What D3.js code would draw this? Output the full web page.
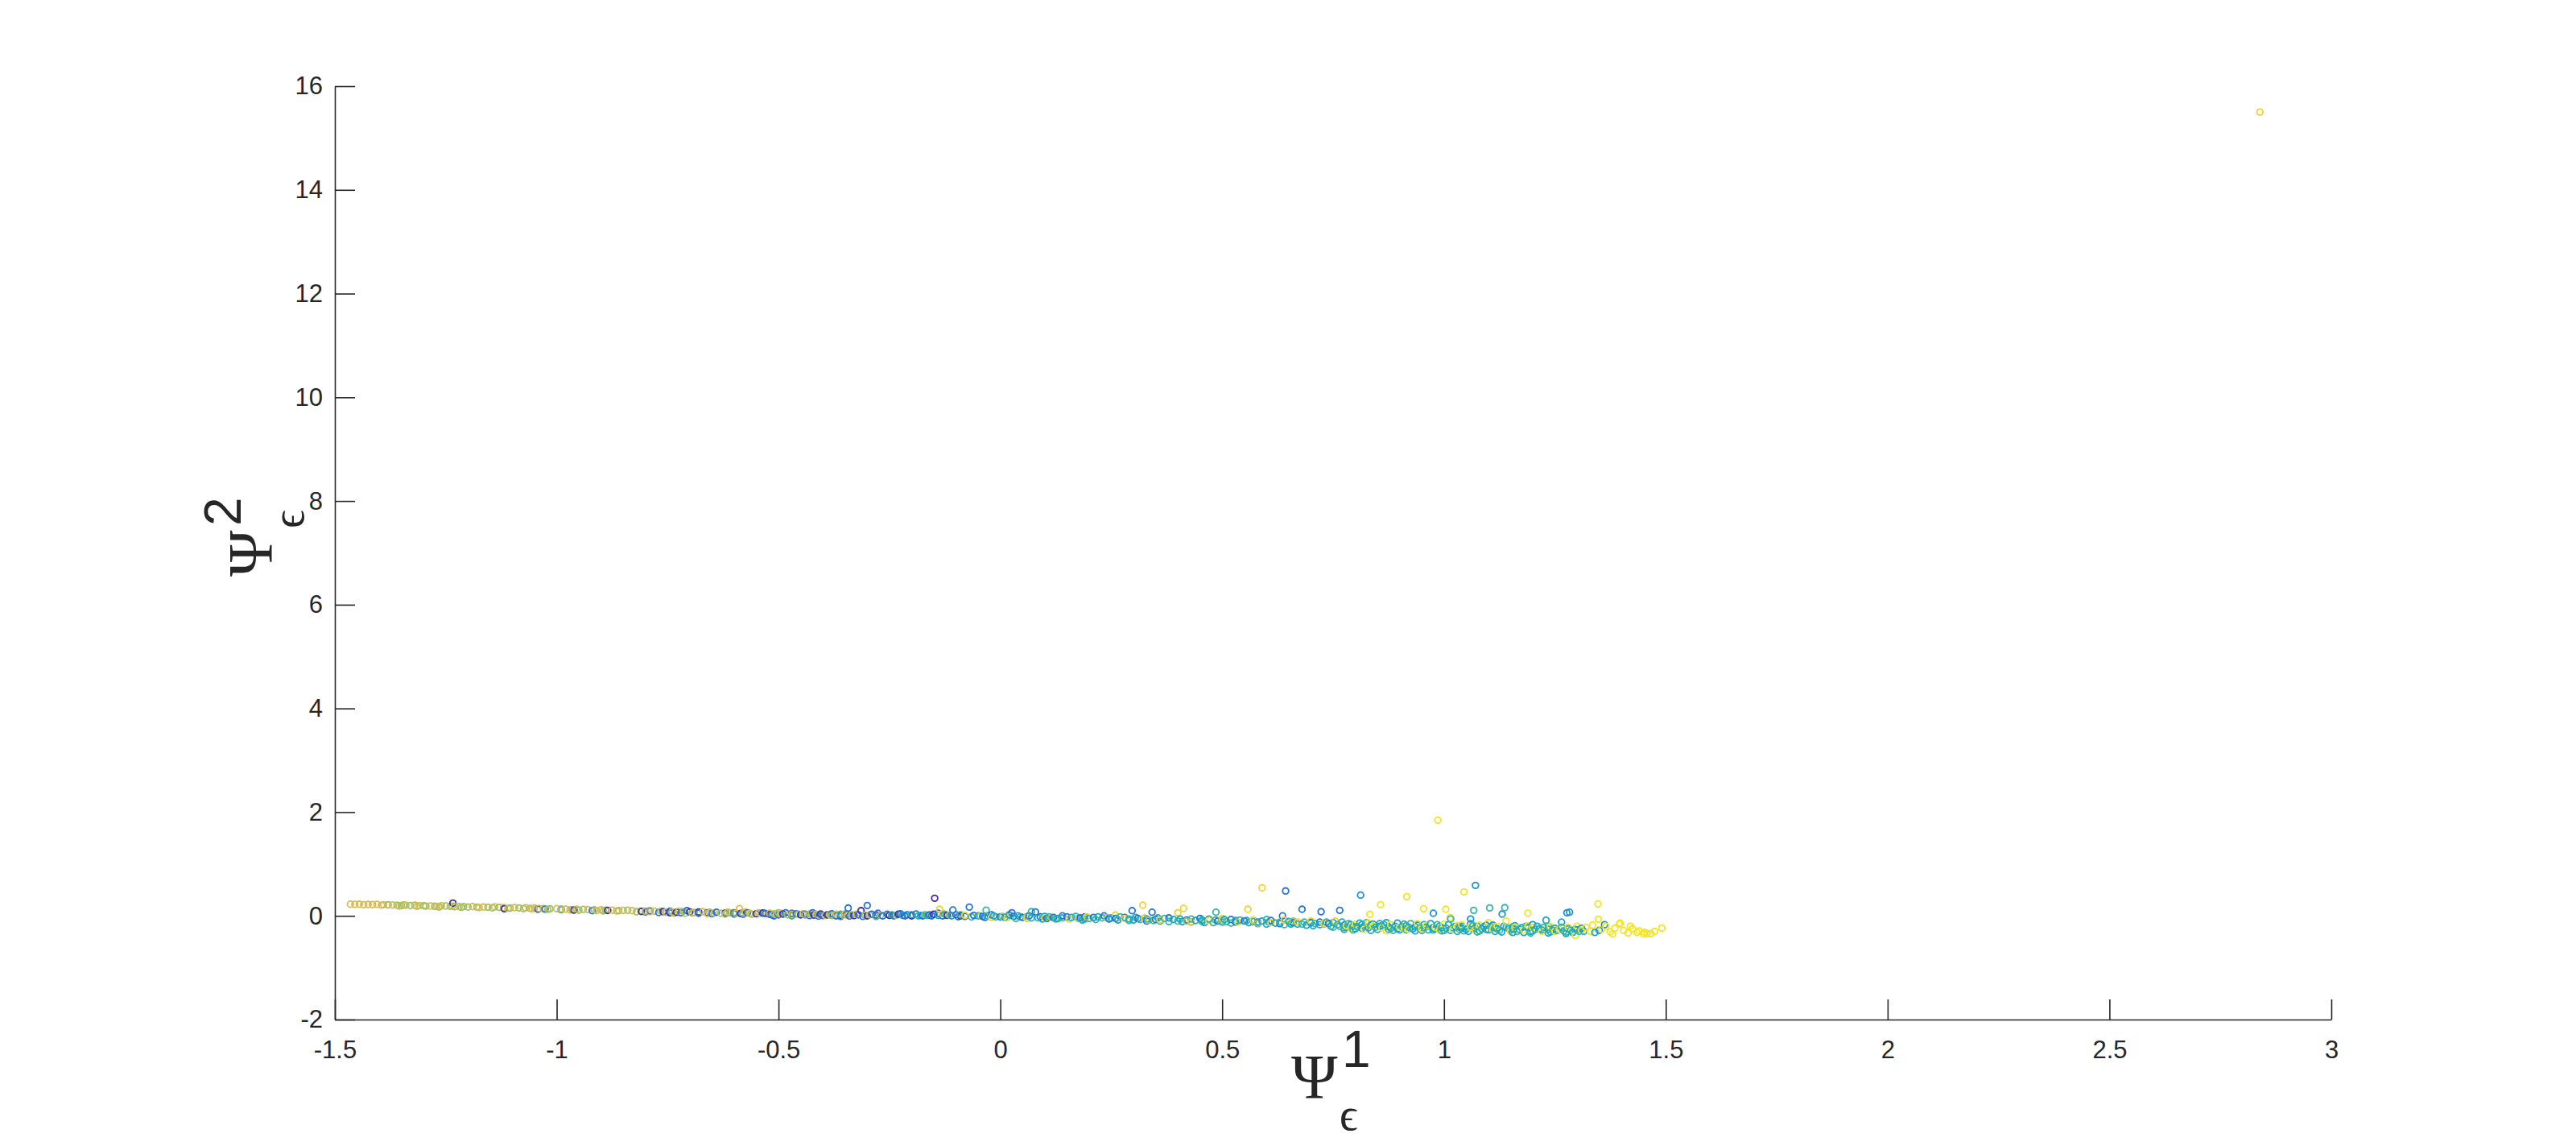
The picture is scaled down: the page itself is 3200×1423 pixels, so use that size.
<!DOCTYPE html>
<html><head><meta charset="utf-8">
<script src="https://cdn.jsdelivr.net/npm/d3@7"></script>
<style>html,body{margin:0;padding:0;background:#fff;} svg{display:block;}</style>
</head><body>
<svg id="chart" width="3200" height="1423"></svg>
<script>
// ---- tick values ----
const xTicks = [-1.5,-1,-0.5,0,0.5,1,1.5,2,2.5,3];
const yTicks = [-2,0,2,4,6,8,10,12,14,16];
const xDomain = [-1.5, 3];
const yDomain = [-2, 16];

// ---- data: points [x, y] grouped by colour value ----
const darkBlue = [[-1.234,0.245],[-1.118,0.138],[-1.042,0.128],[-0.961,0.11],[-0.885,0.105],[-0.809,0.085],[-0.79,0.095],
 [-0.76,0.08],[-0.73,0.07],[-0.7,0.075],[-0.66,0.06],[-0.62,0.055],[-0.585,0.045],[-0.55,0.04],[-0.52,0.03],[-0.49,0.035],[-0.45,0.02],[-0.42,0.015],[-0.39,0.02],[-0.36,0.01],[-0.33,0.005],[-0.314,0.1],[-0.3,0.0],[-0.28,0.015],
 [-0.745,0.06],[-0.68,0.075],[-0.6,0.06],[-0.535,0.055],[-0.47,0.045],[-0.405,0.035],[-0.345,0.025],
 [-0.25,0.01],[-0.23,0.03],[-0.2,0.0],[-0.148,0.34],[-0.15,0.03],[-0.12,0.01],[-0.09,0.0]];
const blue = [[-1.026,0.13],[-0.99,0.12],[-0.92,0.1],[-0.8,0.075],
 [-0.77,0.065],[-0.745,0.09],[-0.706,0.1],[-0.68,0.05],[-0.64,0.07],[-0.6,0.035],[-0.57,0.06],[-0.53,0.045],[-0.5,0.02],[-0.484,0.06],[-0.46,0.04],[-0.44,0.03],[-0.423,0.06],[-0.4,0.005],[-0.38,0.04],[-0.343,0.15],[-0.35,0.03],[-0.32,0.02],[-0.30,0.20],[-0.29,0.03],[-0.276,0.05],[-0.265,0.0],[-0.31,-0.01],[-0.34,-0.005],[-0.37,0.0],[-0.41,-0.005],[-0.47,0.01],[-0.51,0.0],
 [-0.72,0.06],[-0.65,0.04],[-0.58,0.03],[-0.515,0.02],[-0.43,0.005],[-0.36,-0.01],
 [-0.255,0.03],[-0.24,0.0],[-0.225,0.04],[-0.21,0.02],[-0.19,0.035],[-0.175,0.0],[-0.16,0.02],[-0.14,0.05],[-0.13,0.0],[-0.107,0.112],[-0.1,0.02],[-0.08,-0.01],[-0.07,0.169],[-0.06,0.01],[-0.04,-0.01],[-0.02,0.02],[0.0,-0.02],[0.026,0.06],[0.03,-0.01],[0.05,-0.03],[0.079,0.076],[0.09,-0.02],[0.12,-0.03],[0.15,-0.02],[0.18,-0.04],[0.21,-0.03],[0.234,0.0],[0.26,-0.05],[0.28,-0.03],
 [-0.215,0.0],[-0.155,0.0],[-0.095,-0.015],[-0.035,-0.03],[0.02,0.02],[0.065,0.0],[0.105,-0.05],[0.14,0.0],[0.19,-0.02],[0.245,-0.06],
 [0.297,0.10],[0.31,-0.05],[0.342,0.07],[0.35,-0.07],[0.38,-0.04],[0.42,-0.08],[0.45,-0.05],[0.49,-0.1],[0.52,-0.07],[0.55,-0.1],[0.58,-0.12],[0.61,-0.09],[0.636,0.0],[0.643,0.48],[0.66,-0.13],[0.68,0.127],[0.70,-0.12],[0.723,0.08],[0.74,-0.15],[0.765,0.107],
 [0.33,-0.1],[0.43,-0.12],[0.53,-0.12],[0.63,-0.15],[0.72,-0.12]];
const azure = [[0.775,-0.18],[0.812,0.40],[0.815,-0.24],[0.855,-0.2],[0.895,-0.14],[0.935,-0.21],[0.976,0.05],[0.975,-0.23],[1.04,-0.24],[1.06,-0.06],[1.071,0.588],[1.095,-0.18],[1.131,0.034],[1.155,-0.25],[1.2,-0.17],[1.235,-0.26],[1.277,0.06],[1.283,0.07],[1.31,-0.24],[1.35,-0.28],[1.362,-0.17]];
const cyan = [[-0.22,0.01],[-0.18,0.01],[-0.11,0.0],[-0.05,0.0],[0.01,-0.03],[0.04,0.0],[0.07,-0.04],[0.1,-0.01],[0.13,-0.05],[0.16,-0.03],[0.19,-0.06],[0.22,-0.02],[0.25,-0.04],[0.29,-0.06],
 [-0.14,0.01],[-0.015,0.0],[0.095,-0.06],[0.185,-0.08],[0.265,-0.08],
 [0.3,-0.08],[0.33,-0.06],[0.36,-0.1],[0.39,-0.07],[0.41,-0.11],[0.44,-0.09],[0.47,-0.06],[0.5,-0.12],[0.53,-0.09],[0.56,-0.13],[0.59,-0.1],[0.62,-0.14],[0.65,-0.11],[0.67,-0.16],[0.7,-0.14],[0.72,-0.17],[0.75,-0.13],[0.46,-0.13],[0.6,-0.16],[0.69,-0.18],
 [0.305,-0.03],[0.355,-0.04],[0.405,-0.06],[0.455,-0.08],[0.505,-0.07],[0.555,-0.09],[0.605,-0.12],[0.655,-0.16],[0.705,-0.19],[0.745,-0.2],
 [0.77,-0.12],[0.78,-0.22],[0.79,-0.17],[0.80,-0.25],[0.81,-0.14],[0.82,-0.2],[0.83,-0.23],[0.84,-0.16],[0.85,-0.26],[0.86,-0.19],[0.87,-0.13],[0.88,-0.24],[0.89,-0.2],[0.9,-0.27],[0.91,-0.16],[0.92,-0.22],[0.93,-0.25],[0.94,-0.18],[0.95,-0.28],[0.96,-0.21],[0.97,-0.15],[0.98,-0.25],[0.99,-0.2],[1.0,-0.28],[1.01,-0.17],[1.02,-0.23],[1.03,-0.3],[1.04,-0.2],[1.05,-0.26],[1.06,-0.15],[1.07,-0.24],[1.08,-0.29],[1.09,-0.21],[1.1,-0.27],[1.11,-0.18],[1.12,-0.25],[1.13,-0.31],[1.14,-0.22],[1.15,-0.28],[1.16,-0.19],[1.17,-0.26],[1.18,-0.32],[1.19,-0.23],[1.2,-0.29],[1.21,-0.2],[1.22,-0.27],[1.23,-0.085],[1.24,-0.31],[1.25,-0.24],[1.265,-0.12],[1.27,-0.29],[1.28,-0.25],[1.29,-0.32],[1.3,-0.27],
 [0.775,-0.26],[0.795,-0.2],[0.815,-0.17],[0.835,-0.28],[0.855,-0.15],[0.875,-0.21],[0.895,-0.25],[0.915,-0.19],[0.935,-0.29],[0.955,-0.17],[0.975,-0.27],[0.995,-0.23],[1.015,-0.28],[1.035,-0.22],[1.055,-0.3],[1.075,-0.2],[1.095,-0.26],[1.115,-0.3],[1.135,-0.2],[1.155,-0.32],[1.175,-0.23],[1.195,-0.3],[1.215,-0.25],[1.235,-0.33],[1.255,-0.28],[1.275,-0.34],[1.295,-0.26],[1.315,-0.3],[1.34,-0.32]];
const teal = [[-0.6,0.05],[-0.47,0.0],[-0.36,0.03],[-0.28,-0.01],
 [-0.245,0.02],[-0.2,0.025],[-0.165,0.01],[-0.125,0.03],[-0.09,0.02],[-0.032,0.11],[-0.03,0.0],[-0.01,-0.02],[0.02,0.01],[0.045,-0.02],[0.07,0.08],[0.085,-0.04],[0.11,-0.02],[0.14,-0.04],[0.17,-0.01],[0.2,-0.05],[0.23,-0.04],[0.27,-0.02],
 [-0.185,0.0],[-0.065,-0.02],[0.035,-0.05],[0.125,-0.06],[0.215,-0.07],[0.29,-0.09],
 [0.315,-0.07],[0.345,-0.09],[0.37,-0.05],[0.4,-0.1],[0.43,-0.06],[0.455,-0.11],[0.486,0.07],[0.485,-0.08],[0.51,-0.11],[0.54,-0.08],[0.57,-0.11],[0.6,-0.07],[0.63,-0.12],[0.655,-0.15],[0.685,-0.12],[0.71,-0.15],[0.735,-0.12],[0.76,-0.17],[0.52,-0.14],[0.64,-0.17],
 [0.38,-0.11],[0.48,-0.13],[0.58,-0.15],[0.68,-0.16],[0.75,-0.22],
 [0.765,-0.2],[0.785,-0.15],[0.805,-0.21],[0.825,-0.13],[0.845,-0.22],[0.865,-0.17],[0.885,-0.28],[0.905,-0.21],[0.925,-0.15],[0.945,-0.24],[0.965,-0.27],[0.985,-0.17],[1.005,-0.24],[1.015,-0.06],[1.025,-0.2],[1.045,-0.29],[1.065,-0.19],[1.067,0.107],[1.085,-0.25],[1.103,0.153],[1.105,-0.21],[1.125,-0.28],[1.137,0.158],[1.145,-0.24],[1.165,-0.3],[1.185,-0.2],[1.205,-0.26],[1.225,-0.22],[1.245,-0.28],[1.265,-0.22],[1.285,-0.28],[1.305,-0.3],
 [0.775,-0.23],[0.795,-0.27],[0.835,-0.18],[0.875,-0.26],[0.915,-0.27],[0.955,-0.23],[0.995,-0.29],[1.035,-0.26],[1.075,-0.31],[1.115,-0.23],[1.155,-0.21],[1.195,-0.33],[1.235,-0.2],[1.275,-0.31]];
const sage = [[-1.38,0.212],[-1.36,0.205],[-1.35,0.2],[-1.33,0.198],[-1.32,0.205],[-1.3,0.195],[-1.295,0.188],[-1.275,0.185],[-1.25,0.19],[-1.24,0.182],[-1.23,0.175],[-1.21,0.18],[-1.2,0.17],[-1.18,0.168],[-1.155,0.165],[-1.13,0.165],[-1.105,0.15],[-1.085,0.152],[-1.06,0.145],[-1.04,0.14],[-1.015,0.138],[-0.99,0.132],[-0.965,0.12],[-0.94,0.125],[-0.915,0.115],[-0.89,0.11],[-0.86,0.1],[-0.84,0.108],[-0.81,0.09],[-0.79,0.082],
 [-1.345,0.21],[-1.265,0.17],[-1.215,0.165],[-1.145,0.155],[-1.075,0.14],[-1.02,0.125],[-0.95,0.108],[-0.895,0.095],[-0.82,0.08],
 [-0.765,0.09],[-0.74,0.075],[-0.715,0.085],[-0.69,0.065],[-0.655,0.07],[-0.63,0.05],[-0.61,0.06],[-0.58,0.055],[-0.56,0.03],[-0.54,0.05],[-0.51,0.04],[-0.48,0.02],[-0.455,0.03],[-0.43,0.035],[-0.41,0.02],[-0.385,0.025],[-0.355,0.015],[-0.335,0.02],[-0.305,0.01],[-0.27,0.01],
 [-0.71,0.05],[-0.62,0.035],[-0.5,0.06],[-0.44,0.015],[-0.38,0.005],
 [-0.235,0.01],[-0.17,0.025],[-0.115,0.015],[-0.045,0.0],[0.005,-0.01],[0.06,-0.01],[0.115,-0.03],[0.175,-0.05],[0.24,-0.03],
 [0.335,-0.08],[0.42,-0.1],[0.5,-0.09],[0.58,-0.14],[0.66,-0.1],[0.73,-0.16]];
const gold = [[-1.465,0.225],[-1.455,0.222],[-1.445,0.224],[-1.425,0.22],[-1.415,0.218],[-1.405,0.221],[-1.39,0.215],[-1.37,0.21],[-1.34,0.205],[-1.31,0.2],[-1.285,0.19],[-1.26,0.195],[-1.22,0.18],[-1.19,0.178],[-1.165,0.17],[-1.14,0.172],[-1.12,0.16],[-1.095,0.158],[-1.07,0.155],[-1.05,0.15],[-1.03,0.142],[-1.0,0.14],[-0.98,0.13],[-0.955,0.128],[-0.93,0.12],[-0.9,0.118],[-0.875,0.11],[-0.85,0.105],[-0.83,0.1],[-0.8,0.095],[-0.78,0.09],
 [-1.435,0.214],[-1.395,0.208],[-1.355,0.19],[-1.315,0.185],[-1.27,0.18],[-1.235,0.19],[-1.175,0.16],[-1.11,0.145],[-1.055,0.138],[-0.97,0.115],[-0.91,0.1],[-0.865,0.095],
 [-0.755,0.07],[-0.725,0.09],[-0.695,0.055],[-0.67,0.08],[-0.645,0.055],[-0.615,0.07],[-0.595,0.05],[-0.588,0.14],[-0.565,0.045],[-0.545,0.06],[-0.52,0.05],[-0.495,0.045],[-0.47,0.03],[-0.445,0.04],[-0.415,0.03],[-0.395,0.01],[-0.37,0.03],[-0.345,0.01],[-0.325,0.03],[-0.295,0.02],
 [-0.735,0.05],[-0.66,0.045],[-0.575,0.07],[-0.505,0.025],[-0.425,0.045],[-0.35,0.04]];
const amber = [[-0.137,0.127],[-0.13,0.04],[-0.08,0.01],[-0.02,-0.03],[0.015,-0.04],[0.06,-0.05],[0.1,-0.04],[0.155,-0.06],[0.195,-0.02],[0.259,0.014],[0.28,-0.05],
 [0.321,0.205],[0.325,-0.04],[0.36,-0.08],[0.4,0.06],[0.413,0.143],[0.43,-0.12],[0.47,-0.09],[0.5,-0.05],[0.535,-0.12],[0.558,0.127],[0.57,-0.08],[0.59,0.541],[0.61,-0.13],[0.64,-0.08],[0.67,-0.12],[0.7,-0.1],[0.73,-0.14],[0.755,-0.1],
 [2.839,15.5]];
const yellow = [[0.833,0.03],[0.857,0.215],[0.916,0.371],[0.954,0.138],[0.986,1.846],[1.004,0.127],[1.045,0.464],[1.189,0.05],[0.78,-0.19],[0.8,-0.16],[0.82,-0.26],[0.84,-0.19],[0.86,-0.23],[0.88,-0.17],[0.9,-0.22],[0.92,-0.26],[0.94,-0.15],[0.96,-0.19],[0.98,-0.22],[1.0,-0.16],[1.014,-0.03],[1.02,-0.26],[1.04,-0.17],[1.06,-0.22],[1.08,-0.18],[1.1,-0.13],[1.12,-0.2],[1.14,-0.1],[1.16,-0.22],[1.18,-0.27],[1.2,-0.22],[1.22,-0.3],[1.24,-0.21],[1.26,-0.26],[1.28,-0.22],[1.296,-0.38],[1.3,-0.2],
 [0.79,-0.24],[0.83,-0.14],[0.87,-0.29],[0.91,-0.23],[0.95,-0.25],[0.99,-0.27],[1.03,-0.19],[1.07,-0.27],[1.11,-0.25],[1.15,-0.3],[1.19,-0.19],[1.25,-0.3],
 [1.31,-0.28],[1.32,-0.22],[1.33,-0.3],[1.335,-0.18],[1.347,0.231],[1.348,-0.064],[1.355,-0.26],[1.365,-0.2],[1.375,-0.31],[1.385,-0.24],[1.395,-0.157],[1.397,-0.14],[1.405,-0.28],[1.415,-0.33],[1.425,-0.25],[1.435,-0.32],[1.44,-0.29],[1.45,-0.35],[1.452,-0.318],[1.458,-0.34],[1.466,-0.343],[1.475,-0.3],[1.491,-0.235],[1.38,-0.35],[1.42,-0.2]];

const seriesList = [
  {name:"darkBlue", pts:darkBlue, color:"#3e2ea2"},
  {name:"blue", pts:blue, color:"#2472df"},
  {name:"azure", pts:azure, color:"#1c92d6"},
  {name:"cyan", pts:cyan, color:"#17a7c8"},
  {name:"teal", pts:teal, color:"#33b7a2"},
  {name:"sage", pts:sage, color:"#9fc16a"},
  {name:"gold", pts:gold, color:"#d8bb50"},
  {name:"amber", pts:amber, color:"#f4d22c"},
  {name:"yellow", pts:yellow, color:"#f5e41f"}
];

// ---- layout ----
const W = 3200, H = 1423;
const plot = {left:416, right:2896, top:107, bottom:1266};
const axisColor = "#262626";

const svg = d3.select("#chart");
svg.append("rect").attr("width",W).attr("height",H).attr("fill","#ffffff");

const x = d3.scaleLinear().domain(xDomain).range([plot.left, plot.right]);
const y = d3.scaleLinear().domain(yDomain).range([plot.bottom, plot.top]);

// points
const all = [];
seriesList.forEach(s => s.pts.forEach(p => all.push({x:p[0], y:p[1], color:s.color})));
all.sort((a,b) => a.x - b.x);

svg.append("g").selectAll("circle").data(all).join("circle")
  .attr("cx", d => x(d.x))
  .attr("cy", d => y(d.y))
  .attr("r", 3.8)
  .attr("fill", "none")
  .attr("stroke", d => d.color)
  .attr("stroke-width", 1.8);

// axes
const xAxis = d3.axisBottom(x).tickValues(xTicks).tickFormat(d => String(d))
  .tickSizeInner(-25).tickSizeOuter(0).tickPadding(26);
const yAxis = d3.axisLeft(y).tickValues(yTicks).tickFormat(d => String(d))
  .tickSizeInner(-25).tickSizeOuter(0).tickPadding(15);

const gx = svg.append("g").attr("transform", `translate(0,${plot.bottom})`).call(xAxis);
const gy = svg.append("g").attr("transform", `translate(${plot.left},0)`).call(yAxis);
[gx, gy].forEach(g => {
  g.selectAll("path.domain").attr("stroke", axisColor).attr("stroke-width", 1.6);
  g.selectAll(".tick line").attr("stroke", axisColor).attr("stroke-width", 1.6);
  g.selectAll(".tick text").attr("fill", axisColor)
    .attr("font-family", "'Liberation Sans', Arial, Helvetica, sans-serif")
    .attr("font-size", 31);
});

// axis labels (Ψ with super/subscripts)
const serif = "'Liberation Serif', 'DejaVu Serif', 'Times New Roman', serif";
const sans = "'Liberation Sans', Arial, Helvetica, sans-serif";
function psiLabel(g, sup) {
  g.append("text").attr("x", 0).attr("y", 0)
    .attr("font-family", serif).attr("font-size", 78).attr("fill", "#262626").text("Ψ");
  g.append("text").attr("x", 63).attr("y", -38)
    .attr("font-family", sans).attr("font-size", 64).attr("fill", "#262626").text(sup);
  g.append("text").attr("x", 60).attr("y", 40)
    .attr("font-family", serif).attr("font-size", 56).attr("fill", "#262626").text("ϵ");
}
psiLabel(svg.append("g").attr("transform", "translate(1604,1363)"), "1");
psiLabel(svg.append("g").attr("transform", "translate(337,716) rotate(-90)"), "2");
</script>
</body></html>
